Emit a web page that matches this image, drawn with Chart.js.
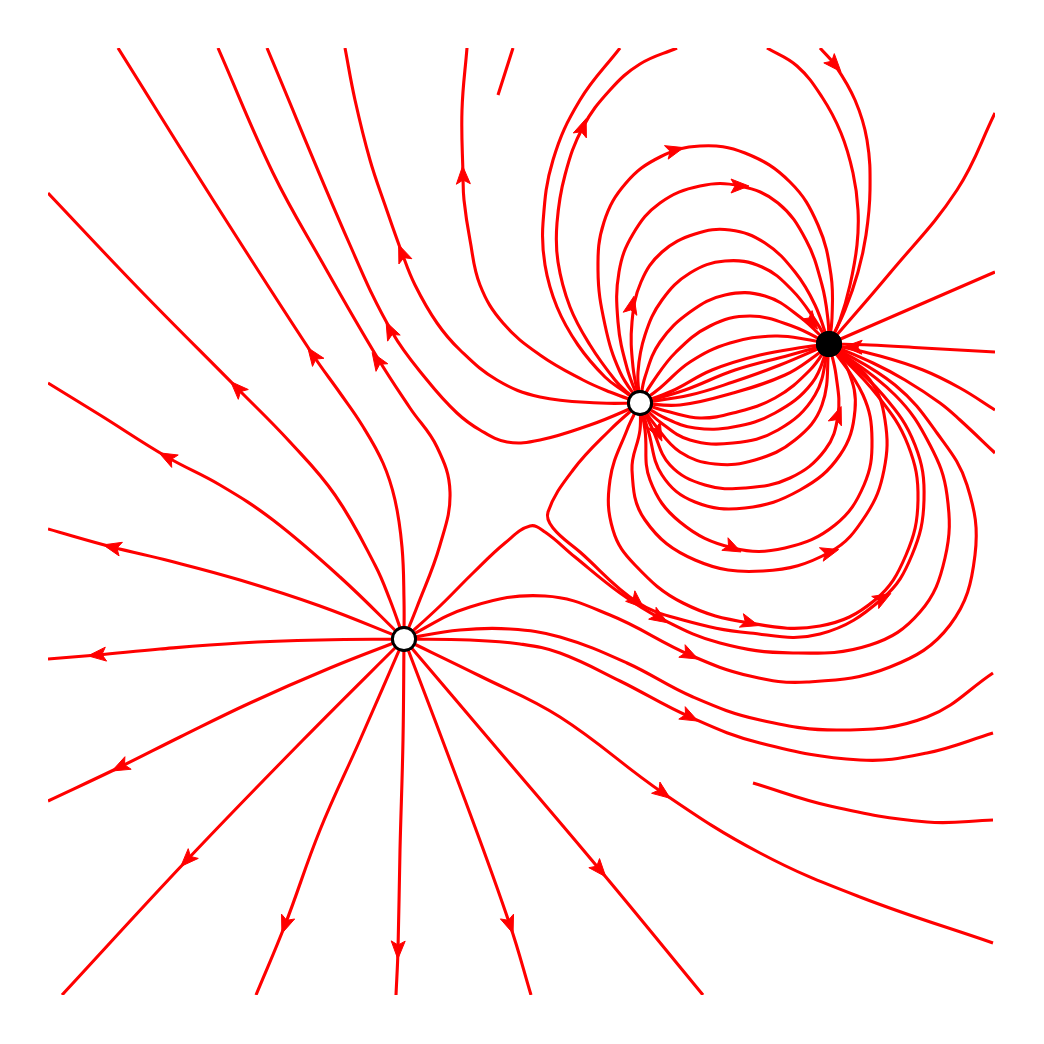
<!DOCTYPE html>
<html>
<head>
<meta charset="utf-8">
<script src="https://cdn.jsdelivr.net/npm/chart.js@4/dist/chart.umd.min.js"></script>
<style>
  html, body { margin: 0; padding: 0; background: #ffffff; }
  #wrap { width: 1044px; height: 1044px; }
</style>
</head>
<body>
<div id="wrap"><canvas id="c"></canvas></div>
<script>
// ---- charges (pixel-like data units) ----
const sources = [[404, 639], [640, 403]];
const sinks = [[829, 344]];

// ---- streamlines, each listed in the direction of flow ----
const linesFromA = [
  [[404,639],[390,600],[375,565],[335,495],[290,442],[237,388],[140,290],[48,193]],
  [[404,639],[404,600],[402,547],[395,500],[383,463],[362,425],[340,393],[313,355],[215,203],[118,48]],
  [[404,639],[417,607],[440,545],[450,492],[437,447],[410,408],[377,357],[322,262],[273,173],[218,48]],
  [[404,639],[340,577],[273,520],[220,485],[167,457],[100,415],[48,383]],
  [[404,639],[320,606],[240,580],[170,561],[112,547],[48,529]],
  [[404,639],[320,640],[240,643],[160,649],[97,655],[48,659]],
  [[404,639],[330,668],[250,703],[180,737],[120,767],[48,801]],
  [[404,639],[303,740],[187,860],[62,995]],
  [[404,639],[360,740],[320,830],[285,925],[256,995]],
  [[404,639],[403,740],[400,850],[398,950],[396,995]],
  [[404,639],[465,800],[510,925],[531,995]],
  [[404,639],[500,752],[600,870],[703,995]],
  [[404,639],[480,676],[560,717],[663,793],[760,853],[860,897],[993,943]],
  [[404,639],[470,640],[520,644],[560,653],[620,681],[690,717],[760,743],[860,760],[927,753],[993,733]],
  [[404,639],[460,630],[510,629],[560,637],[627,663],[693,697],[760,720],[843,730],[927,717],[993,673]],
  [[404,639],[470,607],[545,596],[610,615],[690,655],[750,676],[807,682],[890,667],[950,625],[975,555],[967,485],[937,433],[895,385],[829,344]],
  [[404,639],[440,606],[473,573],[505,543],[530,526],[545,532],[575,557],[620,593],[660,618],[720,643],[793,653],[870,645],[920,612],[945,558],[947,495],[930,445],[895,395],[829,344]]
];

const linesFromB = [
  [[640,403],[627,410],[590,425],[540,440],[507,442],[480,430],[457,413],[427,380],[392,332],[350,245],[267,48]],
  [[640,403],[600,403],[540,397],[497,380],[460,350],[437,323],[415,285],[402,253],[385,205],[370,160],[355,100],[345,48]],
  [[640,403],[610,392],[583,380],[540,355],[503,323],[480,285],[470,240],[464,200],[463,175],[462,110],[467,48]],
  [[640,403],[625,392],[605,377],[578,345],[557,307],[545,265],[543,223],[553,160],[580,100],[620,48]],
  [[640,403],[628,393],[615,380],[590,345],[570,307],[558,262],[557,223],[565,175],[583,127],[610,90],[640,64],[677,48]],
  [[640,403],[610,430],[573,470],[548,512],[553,528],[580,552],[637,602],[683,620],[750,633],[820,634],[883,598],[912,555],[924,500],[915,445],[883,395],[829,344]],
  [[640,403],[627,430],[610,480],[613,530],[635,565],[683,603],[750,623],[820,626],[875,600],[906,555],[918,500],[908,445],[877,395],[829,344]]
];

const loopsBtoC = [
  [[640,403],[620,372],[605,325],[598,270],[604,222],[626,183],[660,157],[700,146],[745,153],[790,182],[818,225],[831,275],[832,318],[829,344]],
  [[640,403],[627,368],[618,322],[619,272],[633,234],[660,203],[700,186],[740,186],[778,203],[806,240],[822,285],[828,320],[829,344]],
  [[640,403],[633,367],[632,322],[641,282],[662,252],[695,234],[730,230],[765,243],[795,272],[815,305],[829,344]],
  [[640,403],[638,372],[645,335],[662,300],[690,273],[725,261],[762,267],[792,290],[815,320],[829,344]],
  [[640,403],[645,377],[660,342],[690,312],[725,295],[765,296],[800,317],[829,344]],
  [[640,403],[652,383],[676,352],[710,326],[750,316],[792,326],[829,344]],
  [[640,403],[660,388],[690,362],[730,343],[775,336],[810,340],[829,344]],
  [[640,403],[672,391],[712,370],[760,355],[805,347],[829,344]],
  [[640,403],[685,390],[735,370],[790,355],[829,344]],
  [[640,403],[690,395],[733,382],[780,365],[829,344]],
  [[640,403],[680,405],[733,393],[785,375],[815,356],[829,344]],
  [[640,403],[670,412],[700,418],[733,413],[775,398],[810,370],[829,344]],
  [[640,403],[665,418],[695,428],[733,427],[775,413],[812,383],[829,344]],
  [[640,403],[660,422],[690,440],[733,443],[778,430],[815,395],[829,344]],
  [[640,403],[655,425],[680,452],[715,464],[755,460],[795,440],[822,405],[829,344]],
  [[640,403],[652,428],[670,465],[705,485],[745,488],[790,478],[825,450],[838,415],[836,375],[829,344]],
  [[640,403],[648,430],[662,475],[695,502],[745,508],[800,490],[840,455],[855,410],[848,370],[829,344]],
  [[640,403],[645,430],[650,480],[680,522],[733,548],[785,548],[835,525],[864,485],[872,440],[863,395],[829,344]],
  [[640,403],[640,430],[632,470],[645,520],[695,560],[763,571],[830,552],[866,515],[884,470],[885,420],[870,380],[829,344]]
];

const linesIntoC = [
  [[767,48],[797,66],[822,97],[841,133],[853,173],[858,210],[857,245],[850,285],[840,320],[829,344]],
  [[820,48],[835,65],[855,100],[867,140],[870,190],[866,235],[858,272],[845,310],[829,344]],
  [[995,113],[957,190],[890,273],[829,344]],
  [[995,272],[829,344]],
  [[995,352],[923,348],[870,345],[829,344]],
  [[995,410],[960,388],[923,370],[880,356],[829,344]],
  [[995,453],[960,420],[940,403],[905,380],[873,363],[829,344]]
];

const freeSegments = [
  [[498,95],[513,48]],
  [[753,783],[830,806],[927,822],[993,820]]
];

const arrowMarks = [
  [237,388],[313,355],[377,360],[390,330],[402,253],[463,175],[583,127],
  [675,150],[740,186],[632,305],[838,415],[733,548],[830,552],[750,623],
  [637,602],[883,598],[660,618],[690,655],[690,717],[663,793],[600,870],
  [510,925],[398,950],[285,925],[187,860],[120,767],[97,655],[112,547],
  [167,457],[835,65],[658,433],[812,322],[853,347]
];

// ---- build datasets ----
const allLines = [].concat(linesFromA, linesFromB, loopsBtoC, linesIntoC, freeSegments);
const toXY = pts => pts.map(p => ({x: p[0], y: p[1]}));

const datasets = [];
datasets.push({
  label: 'sources',
  data: toXY(sources),
  showLine: false,
  pointRadius: 11.5,
  pointBorderWidth: 2.7,
  pointBackgroundColor: '#ffffff',
  pointBorderColor: '#000000',
  order: 0
});
datasets.push({
  label: 'sink',
  data: toXY(sinks),
  showLine: false,
  pointRadius: 13,
  pointBorderWidth: 0,
  pointBackgroundColor: '#000000',
  pointBorderColor: '#000000',
  order: 0
});
allLines.forEach((ln, i) => {
  datasets.push({
    label: 'line' + i,
    data: toXY(ln),
    showLine: true,
    borderColor: '#ff0000',
    borderWidth: 3.1,
    pointRadius: 0,
    pointHoverRadius: 0,
    tension: 0.4,
    fill: false,
    order: 1
  });
});

// ---- arrowheads drawn on the streamlines ----
const arrowPlugin = {
  id: 'arrows',
  afterDatasetsDraw(chart) {
    const ctx = chart.ctx;
    const xs = chart.scales.x, ys = chart.scales.y;
    const px = p => [xs.getPixelForValue(p[0]), ys.getPixelForValue(p[1])];
    ctx.save();
    ctx.fillStyle = '#ff0000';
    ctx.strokeStyle = '#ff0000';
    ctx.lineWidth = 1;
    ctx.lineJoin = 'miter';
    arrowMarks.forEach(m => {
      let best = null;
      allLines.forEach(ln => {
        for (let i = 0; i < ln.length - 1; i++) {
          const a = ln[i], b = ln[i + 1];
          const dx = b[0] - a[0], dy = b[1] - a[1];
          const L2 = dx * dx + dy * dy;
          if (L2 === 0) continue;
          let t = ((m[0] - a[0]) * dx + (m[1] - a[1]) * dy) / L2;
          t = Math.max(0, Math.min(1, t));
          const qx = a[0] + t * dx, qy = a[1] + t * dy;
          const d = (qx - m[0]) ** 2 + (qy - m[1]) ** 2;
          if (!best || d < best.d) best = {d, a, b};
        }
      });
      if (!best) return;
      const pa = px(best.a), pb = px(best.b), pm = px(m);
      let ux = pb[0] - pa[0], uy = pb[1] - pa[1];
      const len = Math.hypot(ux, uy);
      ux /= len; uy /= len;
      const vx = -uy, vy = ux;
      const L = 18, W = 7, N = 4;
      const tip = [pm[0] + ux * L / 2, pm[1] + uy * L / 2];
      const base = [pm[0] - ux * L / 2, pm[1] - uy * L / 2];
      ctx.beginPath();
      ctx.moveTo(tip[0], tip[1]);
      ctx.lineTo(base[0] + vx * W, base[1] + vy * W);
      ctx.lineTo(base[0] + ux * N, base[1] + uy * N);
      ctx.lineTo(base[0] - vx * W, base[1] - vy * W);
      ctx.closePath();
      ctx.fill();
      ctx.stroke();
    });
    ctx.restore();
  }
};

// circles redrawn on top of arrows and lines
const markerPlugin = {
  id: 'markersOnTop',
  afterDraw(chart) {
    const ctx = chart.ctx;
    const xs = chart.scales.x, ys = chart.scales.y;
    ctx.save();
    sources.forEach(p => {
      ctx.beginPath();
      ctx.arc(xs.getPixelForValue(p[0]), ys.getPixelForValue(p[1]), 11.5, 0, Math.PI * 2);
      ctx.fillStyle = '#ffffff';
      ctx.fill();
      ctx.lineWidth = 2.8;
      ctx.strokeStyle = '#000000';
      ctx.stroke();
    });
    sinks.forEach(p => {
      ctx.beginPath();
      ctx.arc(xs.getPixelForValue(p[0]), ys.getPixelForValue(p[1]), 13, 0, Math.PI * 2);
      ctx.fillStyle = '#000000';
      ctx.fill();
    });
    ctx.restore();
  }
};

new Chart(document.getElementById('c'), {
  type: 'scatter',
  data: { datasets },
  options: {
    responsive: true,
    maintainAspectRatio: false,
    animation: false,
    events: [],
    layout: { padding: { left: 48, top: 48, right: 49, bottom: 49 } },
    scales: {
      x: { type: 'linear', min: 48, max: 995, display: false },
      y: { type: 'linear', min: 48, max: 995, reverse: true, display: false }
    },
    plugins: { legend: { display: false }, tooltip: { enabled: false } }
  },
  plugins: [arrowPlugin, markerPlugin]
});
</script>
</body>
</html>
